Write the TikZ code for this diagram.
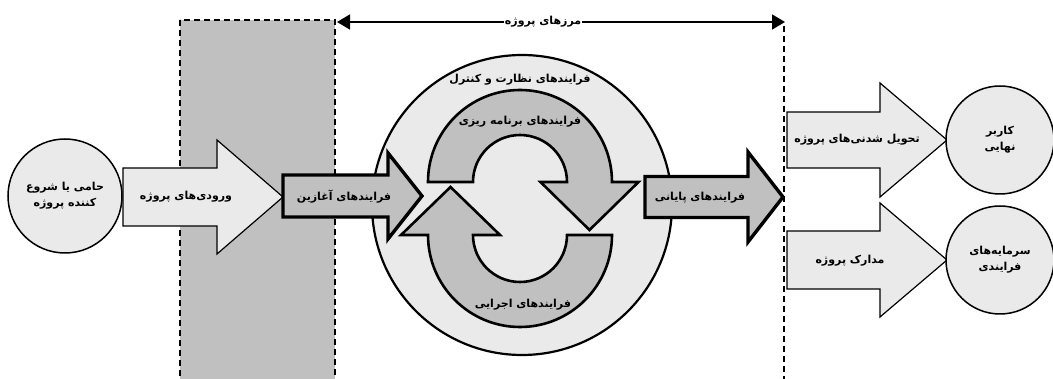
\documentclass[tikz,border=0pt]{standalone}
\usepackage{fontspec}
\usepackage{xcolor}
\usepackage{tikz}
\usetikzlibrary{positioning, arrows.meta}
\TeXXeTstate=1
\newfontfamily\arabicfont[Script=Arabic, BoldFont={DejaVu Sans Bold}]{DejaVu Sans}
\newcommand{\pers}[1]{\beginR #1\endR}
\definecolor{paleshade}{HTML}{EAEAEA}
\definecolor{midshade}{HTML}{C0C0C0}

% block arrow: [style]{start x}{mid y}{shaft half}{head x}{head half}{tip x}
\newcommand{\blockarrow}[7][]{%
  \draw[#1] ({#2},{#3-#4}) -- ({#5},{#3-#4}) -- ({#5},{#3-#6}) -- ({#7},{#3})
    -- ({#5},{#3+#6}) -- ({#5},{#3+#4}) -- ({#2},{#3+#4}) -- cycle;}

\tikzset{
  txt/.style={font=\arabicfont\bfseries\fontsize{11}{16}\selectfont, align=center, inner sep=1pt},
  party/.style={circle, draw, line width=1.5pt, fill=paleshade, txt},
  flow/.style={draw, line width=1.2pt, fill=paleshade, line join=miter},
  phase/.style={draw, line width=3.4pt, fill=midshade, line join=miter},
  loopband/.style={draw, line width=2.6pt, fill=midshade, line join=miter},
  fence/.style={line width=1.3pt, dash pattern=on 6pt off 4pt},
}

\begin{document}
\begin{tikzpicture}[x=1pt, y=-1pt]
    \useasboundingbox (0,0) rectangle (1053,379);
    % project boundary
    \draw[fence, fill=midshade] (180,20) rectangle (335,385);
    \coordinate (bndL) at (337,22);
    \coordinate (bndR) at (785,22);
    \draw[fence] (784,26) -- (784,385);
    \draw[{Triangle[length=13pt,width=15pt]}-{Triangle[length=13pt,width=15pt]}, line width=1.6pt]
      (bndL) -- node[pos=0.46, fill=white, txt] (bndtxt) {\pers{مرزهای پروژه}} (bndR);

    % monitoring and controlling
    \node[circle, draw, line width=2.2pt, fill=paleshade, minimum size=300pt] (monitor) at (522,205) {};
    \node[txt] (monitortxt) at (520,80) {\pers{فرایندهای نظارت و کنترل}};

    % planning and executing loop
    \draw[loopband] (428,182) arc[start angle=180, end angle=360, radius=92]
      -- (638.5,182) -- (589.5,230) -- (540.5,182) -- (567,182)
      arc[start angle=360, end angle=180, radius=47] -- cycle;
    \draw[loopband] (612,235) arc[start angle=0, end angle=180, radius=92]
      -- (401,235) -- (450.5,187) -- (500,235) -- (473,235)
      arc[start angle=180, end angle=0, radius=47] -- cycle;
    \node[txt] (plantxt) at (520,122) {\pers{فرایندهای برنامه ریزی}};
    \node[txt] (exectxt) at (523,305) {\pers{فرایندهای اجرایی}};

    % sponsor and inputs
    \node[party, minimum size=114pt] (sponsor) at (65,196)
      {\pers{حامی یا شروع}\\\pers{کننده پروژه}};
    \blockarrow[flow]{123}{197}{29}{217}{57}{283}
    \node[txt] (inputstxt) at (186,197) {\pers{ورودی‌های پروژه}};

    % initiating and closing
    \blockarrow[phase]{283}{196}{21}{388}{43}{422}
    \node[txt] (inittxt) at (344,197) {\pers{فرایندهای آغازین}};
    \blockarrow[phase]{645}{197}{20.5}{748}{45}{783}
    \node[txt] (closetxt) at (700,198) {\pers{فرایندهای پایانی}};

    % outputs
    \blockarrow[flow]{787}{140}{28}{880}{57}{947}
    \node[txt] (delivtxt) at (857,140) {\pers{تحویل شدنی‌های پروژه}};
    \blockarrow[flow]{787}{260}{29}{880}{57}{947}
    \node[txt] (docstxt) at (850,261) {\pers{مدارک پروژه}};
    \node[party, minimum size=108pt] (enduser) at (1000,140)
      {\pers{کاربر}\\\pers{نهایی}};
    \node[party, minimum size=108pt] (assets) at (1000,260)
      {\pers{سرمایه‌های}\\\pers{فرایندی}};
  \end{tikzpicture}
\end{document}
